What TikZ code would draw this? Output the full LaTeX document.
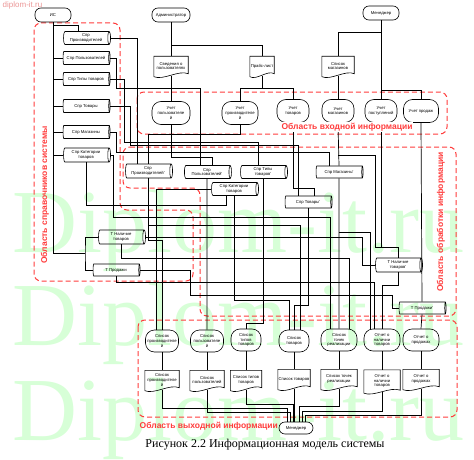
\documentclass[tikz,border=0pt]{standalone}
\usepackage{fontspec}
\setmainfont{Liberation Serif}
\newfontfamily\lsans{Liberation Sans}
\usetikzlibrary{shapes.geometric,calc}
\definecolor{rd}{RGB}{255,60,60}
\definecolor{wm}{RGB}{215,255,215}
\definecolor{wmpink}{RGB}{235,150,150}
\newcommand\docdraw[1]{\draw[line width=0.6pt] (#1.north west) -- (#1.north east) -- ($(#1.south east)+(0,-2)$) .. controls ($(#1.south)!0.45!(#1.south east)+(0,-6)$) and ($(#1.south)!0.45!(#1.south west)+(0,5)$) .. ($(#1.south west)+(0,1)$) -- cycle;}
\begin{document}
\begin{tikzpicture}[x=1pt,y=-1pt,
  every node/.style={font=\lsans\fontsize{4.2}{4.7}\selectfont, align=center, inner sep=0.5pt},
  ln/.style={line width=0.7pt},
  term/.style={draw, line width=0.6pt, rounded corners=6pt, minimum height=14pt},
  store/.style={draw, cylinder, aspect=0.3, line width=0.6pt, minimum width=13pt, minimum height=47pt, inner sep=0.3pt},
  proc/.style={draw, rounded corners=9pt, line width=0.6pt, minimum height=23pt},
  docu/.style={minimum height=19pt},
  region/.style={draw=rd, dash pattern=on 5pt off 3pt, line width=1pt, rounded corners=7pt},
  rlabel/.style={text=rd, font=\lsans\bfseries\fontsize{8.5}{10}\selectfont}
]
\useasboundingbox (0,0) rectangle (474,460);
% watermark
\foreach \yy in {252,345,440}{
  \node[anchor=base west, text=wm, font=\fontsize{90}{90}\selectfont, inner sep=0] at (12,\yy) {Diplom-it.ru};}
\node[anchor=north west, text=wmpink, font=\lsans\fontsize{8}{9}\selectfont] (wmk) at (2,1) {diplom-it.ru};

% regions
\draw[region] (34,23) -- (120,23) -- (120,210) -- (193,210) -- (193,281) -- (34,281) -- cycle;
\draw[region] (137,92) rectangle (447,134);
\draw[region] (123,147) -- (456,147) -- (456,316) -- (200,316) -- (200,188) -- (123,188) -- cycle;
\draw[region] (138,320) rectangle (457,417);

% terminators
\node[term, minimum width=36] (is) at (53,15) {ИС};
\node[term, minimum width=38] (adm) at (171,15) {Администратор};
\node[term, minimum width=36] (mgr) at (381,13) {Менеджер};
\node[term, minimum width=34, minimum height=12] (mgr2) at (296,428) {Менеджер};

% top documents
\node[docu, minimum width=34] (svp) at (171,66) {Сведения о\\пользователях}; \docdraw{svp}
\node[docu, minimum width=24] (price) at (262,66) {Прайс-лист}; \docdraw{price}
\node[docu, minimum width=32] (slist) at (338,66) {Список\\магазинов}; \docdraw{slist}

% left stores
\node[store] (sprz) at (86,38) {Спр\\Производителей};
\node[store] (spol) at (86,58) {Спр Пользователей};
\node[store] (stt) at (86,79) {Спр Типы товаров};
\node[store] (stov) at (86,106) {Спр Товары};
\node[store] (smag) at (86,132) {Спр Магазины};
\node[store, minimum width=14pt] (skat) at (86,155) {Спр Категории\\товаров};
\node[store, minimum width=14pt] (tnal) at (121,237) {Т Наличие\\товаров};
\node[store, minimum width=12pt] (tprod) at (116,270) {Т Продажи};

% input processes
\node[proc, minimum width=38] (upol) at (171,113) {Учет\\пользователе\\й};
\node[proc, minimum width=36] (upr) at (240,113) {Учет\\производителе\\й};
\node[proc, minimum width=32] (utv) at (293,111) {Учет\\товаров};
\node[proc, minimum width=32] (umag) at (338,111) {Учет\\магазинов};
\node[proc, minimum width=32] (upost) at (381,111) {Учет\\поступлений};
\node[proc, minimum width=35] (uprod) at (421,111) {Учет продаж};

% processing stores
\node[store, minimum width=14pt] (sprz2) at (148,171) {Спр\\Производителей'};
\node[store] (spol2) at (207,172) {Спр\\Пользователей'};
\node[store] (stt2) at (263,172) {Спр Типы\\товаров'};
\node[store] (skat2) at (234,189) {Спр Категории\\товаров};
\node[store, minimum width=12pt] (stov2) at (308,202) {Спр Товары'};
\node[store, minimum width=12pt] (smag2) at (339,172) {Спр Магазины'};
\node[store, minimum width=14pt] (tnal2) at (398,265) {Т Наличие\\товаров'};
\node[store, minimum width=12pt] (tprod2) at (422,308) {Т Продажи'};

% output processes
\node[proc, minimum width=33, minimum height=22pt] (lprz) at (162,341) {Список\\производителе\\й};
\node[proc, minimum width=33, minimum height=22pt] (lpol) at (207,341) {Список\\пользователе\\й};
\node[proc, minimum width=30, minimum height=22pt] (ltt) at (246,340) {Список\\типов\\товаров};
\node[proc, minimum width=30, minimum height=22pt] (ltov) at (294,341) {Список\\товаров};
\node[proc, minimum width=36, minimum height=22pt] (ltoch) at (339,340) {Список\\точек\\реализации};
\node[proc, minimum width=36, minimum height=22pt] (lnal) at (382,340) {Отчет о\\наличии\\товаров};
\node[proc, minimum width=36, minimum height=22pt] (lprod) at (421,340) {Отчет о\\продажах};

% output documents
\node[docu, minimum width=34] (dprz) at (162,380) {Список\\производителе\\й}; \docdraw{dprz}
\node[docu, minimum width=34] (dpol) at (207,380) {Список\\пользователей}; \docdraw{dpol}
\node[docu, minimum width=31] (dtt) at (246,380) {Список типов\\товаров}; \docdraw{dtt}
\node[docu, minimum width=32] (dtov) at (294,379) {Список товаров}; \docdraw{dtov}
\node[docu, minimum width=36] (dtoch) at (339,379) {Список точек\\реализации}; \docdraw{dtoch}
\node[docu, minimum width=36, minimum height=22pt] (dnal) at (382,381) {Отчет о\\наличии\\товаров}; \docdraw{dnal}
\node[docu, minimum width=36] (dprod) at (421,379) {Отчет о\\продажах}; \docdraw{dprod}

% ---- connectors: top
\draw[ln] (adm) -- (svp);
\draw[ln] (adm.south |- 0,45) -| (price.north);
\draw[ln] (price.south) -- (price.south |- 0,88);
\draw[ln] (upr.north) |- (utv.north |- 0,88) -- (utv.north);
\draw[ln] (mgr) -- (upost);
\draw[ln] (mgr.south |- 0,32) -| (slist.north);
\draw[ln] (mgr.south |- 0,90) -| (uprod.north);
\draw[ln] (slist.south) -- (umag.north);
\draw[ln] (svp.south) -- (upol.north);

% left spine
\coordinate (sp) at (85,253);
\draw[ln] (is.south) |- (sp);
\draw[ln] (tnal.west) -| (sp) |- (tprod.west);
\draw[ln] (is.south |- 0,25) -| ([xshift=-8pt]sprz.north);
\foreach \n in {spol,stt,stov,smag,skat}{\draw[ln] (is.south |- \n.west) -- (\n.west);}

% left stores to processing
\draw[ln] (sprz.east) -| ([xshift=-11pt]sprz2.north);
\draw[ln] (spol.east) -| (116,88) -| ([xshift=-7pt]spol2.north);
\draw[ln] (stt.east) -| (124,142) -| ([xshift=-5pt]stt2.north);
\draw[ln] (stov.east) -| (130,145) -| ([xshift=-10pt]stov2.north);
\draw[ln] (smag.east) -| (116,152) -| ([xshift=-10pt]smag2.north);
\draw[ln] (skat.south) |- ([xshift=-8pt]skat2.south |- 0,205) -- ([xshift=-8pt]skat2.south);
\draw[ln] (skat.east) -| (113,217) -| ([xshift=-9pt]ltoch.north);
\draw[ln] (tnal.east) -| (362,265) -- (tnal2.west);
\draw[ln] (tprod.east) -| (190,295) -| (392,308) -- (tprod2.west);

% input to processing
\draw[ln] (upol.south) |- ([xshift=5pt]spol2.north |- 0,157) -- ([xshift=5pt]spol2.north);
\draw[ln] (upr.south) |- (sprz2.north |- 0,134) -- (sprz2.north);
\draw[ln] (utv.south) |- ([xshift=6pt]stov2.north |- 0,188) -- ([xshift=6pt]stov2.north);
\draw[ln] (umag.south) -- (smag2.north);
\draw[ln] (umag.south |- 0,155) -| (375,247) -- (upost.south |- 0,247);
\draw[ln] (upost.south) |- (tnal2.north |- 0,247) -- (tnal2.north);
\draw[ln] (uprod.south) -- (tprod2.north);

% processing to output
\draw[ln] (smag2.south) -- (ltoch.north);
\draw[ln] (tprod2.south) -- (lprod.north);
\draw[ln] (tnal2.south) |- (lnal.north |- 0,285) -- (lnal.north);
\draw[ln] (stt2.south) |- (ltt.north |- 0,323) -- (ltt.north);
\draw[ln] (spol2.south) -- (lpol.north);
\draw[ln] (sprz2.south) |- (lprz.north |- 0,240) -- (lprz.north);
\draw[ln] (sprz2.south |- 0,225) -| ([xshift=6pt]ltov.north);
\draw[ln] (smag2.south |- 0,232) -| ([xshift=-12pt]lnal.north);
\draw[ln] (stov2.south) |- (ltov.north |- 0,305) -- (ltov.north);
\draw[ln] (skat2.south) |- ([xshift=-5pt]ltov.north |- 0,300) -- ([xshift=-5pt]ltov.north);
\draw[ln] (skat2.west) -| ([xshift=-6pt]lprz.north);
\draw[ln] (tnal.south) |- ([xshift=10pt]ltoch.north |- 0,258) -- ([xshift=10pt]ltoch.north);
\draw[ln] (tprod.south) |- ([xshift=-8pt]lnal.north |- 0,282) -- ([xshift=-8pt]lnal.north);

% outputs
\foreach \a/\b in {lprz/dprz,lpol/dpol,ltt/dtt,ltov/dtov,ltoch/dtoch,lnal/dnal,lprod/dprod}{\draw[ln] (\a.south) -- (\b.north);}
\draw[ln] (dprz.south) |- ([xshift=-9pt]mgr2.north |- 0,408) -- ([xshift=-9pt]mgr2.north);
\draw[ln] (dpol.south) |- ([xshift=-6pt]mgr2.north |- 0,412) -- ([xshift=-6pt]mgr2.north);
\draw[ln] (dtt.south) |- ([xshift=-3pt]mgr2.north |- 0,404) -- ([xshift=-3pt]mgr2.north);
\draw[ln] (dtov.south) -- (dtov.south |- mgr2.north);
\draw[ln] (dtoch.south) |- ([xshift=3pt]mgr2.north |- 0,406) -- ([xshift=3pt]mgr2.north);
\draw[ln] (dnal.south) |- ([xshift=6pt]mgr2.north |- 0,411) -- ([xshift=6pt]mgr2.north);
\draw[ln] (dprod.south) |- ([xshift=9pt]mgr2.north |- 0,415) -- ([xshift=9pt]mgr2.north);

% labels
\node[rlabel, fill=white, inner sep=1pt] (lin) at (347,127) {Область входной информации};
\node[rlabel, rotate=90] (lleft) at (45,195) {Область справочников системы};
\node[rlabel, rotate=90] (lproc) at (441,222) {Область обработки информации};
\node[rlabel, anchor=west] (lout) at (139,426) {Область выходной информации};
\node[font=\fontsize{12}{14}\selectfont] (cap) at (265,445) {Рисунок 2.2 Информационная модель системы};
\end{tikzpicture}
\end{document}
